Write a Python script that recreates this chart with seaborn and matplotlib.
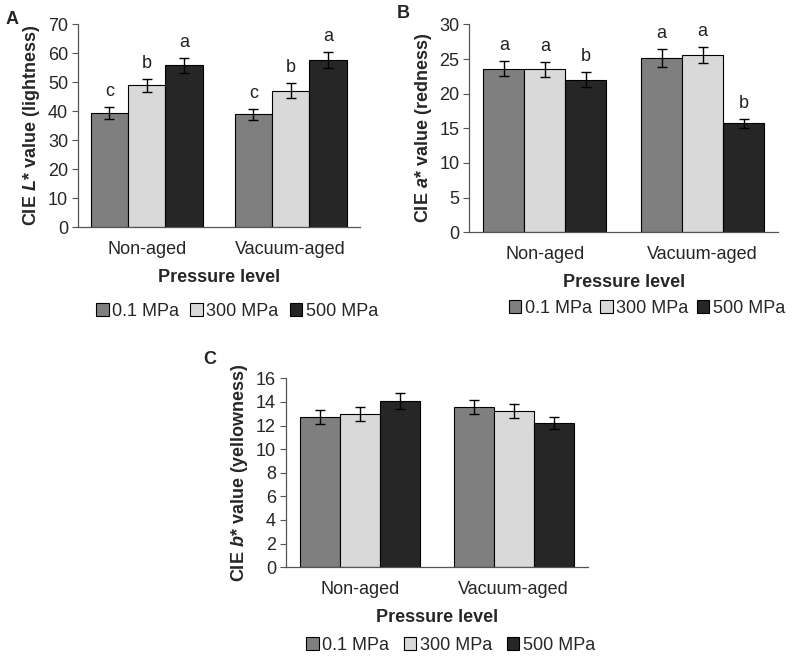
import pandas as pd
import seaborn as sns
import matplotlib
matplotlib.use("Agg")
import matplotlib.pyplot as plt

# data
groups = ["Non-aged", "Vacuum-aged"]
pressures = ["0.1 MPa", "300 MPa", "500 MPa"]

l_vals = [[39.2, 48.8, 55.7], [38.9, 47.0, 57.5]]
l_err = [[2.1, 2.4, 2.7], [1.9, 2.6, 2.8]]
l_letters = [["c", "b", "a"], ["c", "b", "a"]]

a_vals = [[23.6, 23.5, 22.0], [25.2, 25.6, 15.7]]
a_err = [[1.1, 1.1, 1.1], [1.3, 1.2, 0.7]]
a_letters = [["a", "a", "b"], ["a", "a", "b"]]

b_vals = [[12.7, 13.0, 14.1], [13.6, 13.2, 12.2]]
b_err = [[0.6, 0.6, 0.7], [0.6, 0.6, 0.5]]

colors = ["#7f7f7f", "#d9d9d9", "#262626"]

sns.set_theme(style="white")
plt.rcParams["font.family"] = ["Liberation Sans", "DejaVu Sans"]
plt.rcParams["mathtext.fontset"] = "custom"
plt.rcParams["mathtext.rm"] = "Liberation Sans:bold"
plt.rcParams["mathtext.it"] = "Liberation Sans:italic:bold"
plt.rcParams["mathtext.bf"] = "Liberation Sans:bold"


def make_df(vals, err):
    rows = []
    for gi, g in enumerate(groups):
        for pi, p in enumerate(pressures):
            rows.append({"group": g, "pressure": p,
                         "value": vals[gi][pi], "err": err[gi][pi]})
    return pd.DataFrame(rows)


def panel(ax, vals, err, letters, ylabel, ymax, ystep, leg_xy, colsp):
    df = make_df(vals, err)
    sns.barplot(data=df, x="group", y="value", hue="pressure",
                order=groups, hue_order=pressures, palette=colors,
                width=0.78, gap=0, errorbar=None, edgecolor="black",
                linewidth=0.8, ax=ax)
    # error bars and significance letters on top of each bar
    bar_conts = list(ax.containers)
    for pi, cont in enumerate(bar_conts):
        for gi, bar in enumerate(cont):
            x = bar.get_x() + bar.get_width() / 2
            h = bar.get_height()
            e = err[gi][pi]
            ax.errorbar(x, h, yerr=e, fmt="none", ecolor="black",
                        elinewidth=1, capsize=3.5, capthick=1)
            if letters is not None:
                ax.annotate(letters[gi][pi], (x, h + e), xytext=(0, 5),
                            textcoords="offset points", ha="center",
                            va="bottom", fontsize=13, color="#222222")
    ax.set_ylim(0, ymax)
    ax.set_yticks(range(0, ymax + 1, ystep))
    ax.set_xlabel("Pressure level", fontsize=13, fontweight="bold",
                  labelpad=8)
    ax.set_ylabel(ylabel, fontsize=13, fontweight="bold", labelpad=4)
    ax.tick_params(axis="y", labelsize=13, length=4, width=0.8,
                   color="#555555", left=True, pad=3)
    ax.tick_params(axis="x", labelsize=13, length=0, pad=10)
    sns.despine(ax=ax)
    for s in ("left", "bottom"):
        ax.spines[s].set_color("#555555")
        ax.spines[s].set_linewidth(0.9)
    sns.move_legend(ax, "center", bbox_to_anchor=leg_xy, ncol=3,
                    frameon=False, title=None, fontsize=13,
                    handlelength=0.7, handleheight=0.7, handletextpad=0.2,
                    columnspacing=colsp, borderaxespad=0)


fig = plt.figure(figsize=(7.94, 6.58), dpi=100)

ax_a = fig.add_axes([0.098, 0.655, 0.355, 0.3085])
panel(ax_a, l_vals, l_err, l_letters,
      "CIE $\\it{L}$* value (lightness)", 70, 10, (0.565, -0.414), 0.6)

ax_b = fig.add_axes([0.591, 0.647, 0.389, 0.316])
panel(ax_b, a_vals, a_err, a_letters,
      "CIE $\\it{a}$* value (redness)", 30, 5, (0.575, -0.365), 0.45)

ax_c = fig.add_axes([0.360, 0.138, 0.380, 0.287])
panel(ax_c, b_vals, b_err, None,
      "CIE $\\it{b}$* value (yellowness)", 16, 2, (0.546, -0.413), 0.8)

fig.text(12 / 794, 1 - 20 / 658, "A", fontsize=13, fontweight="bold",
         ha="center", va="center")
fig.text(403 / 794, 1 - 13 / 658, "B", fontsize=13, fontweight="bold",
         ha="center", va="center")
fig.text(210 / 794, 1 - 359 / 658, "C", fontsize=13, fontweight="bold",
         ha="center", va="center")

fig.savefig("out.png", dpi=100)
